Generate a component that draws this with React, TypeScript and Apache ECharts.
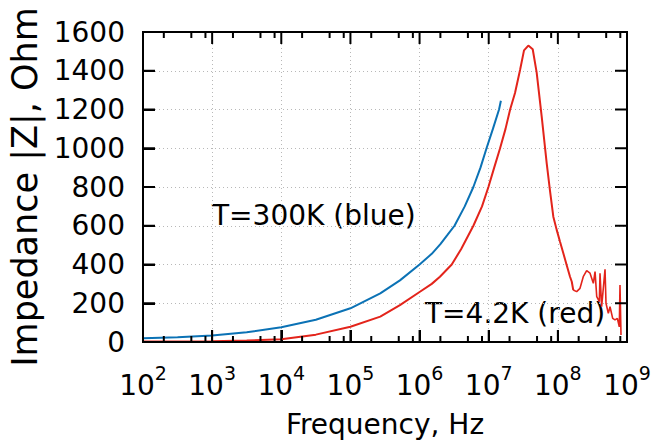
import React, { useEffect, useRef } from 'react';
import * as echarts from 'echarts';

// Axis ranges / ticks
const xMin = 1e2;
const xMax = 1e9;
const yMin = 0;
const yMax = 1600;
const yStep = 200;
const xMajorTicks = [1e2, 1e3, 1e4, 1e5, 1e6, 1e7, 1e8, 1e9];
const xMinorTicks = [
  2e2, 5e2, 8e2, 2e3, 5e3, 8e3, 2e4, 5e4, 8e4, 2e5, 5e5, 8e5,
  2e6, 5e6, 8e6, 2e7, 5e7, 8e7, 2e8, 5e8, 8e8,
];
const yTicks = [0, 200, 400, 600, 800, 1000, 1200, 1400, 1600];

// T = 300 K (blue): [frequency Hz, |Z| Ohm]
const blueData: [number, number][] = [
  [1e2, 19], [3.16e2, 25], [1e3, 33], [3.16e3, 50], [1e4, 76], [3.16e4, 115],
  [1e5, 174], [2.7e5, 251], [5.2e5, 318], [1e6, 400], [1.5e6, 455], [2e6, 505],
  [2.5e6, 550], [3.2e6, 600], [4.5e6, 700], [6e6, 800], [7.6e6, 900], [9.3e6, 1000],
  [1.15e7, 1100], [1.41e7, 1200], [1.5e7, 1245],
];

// T = 4.2 K (red), smooth part
const redData: [number, number][] = [
  [1e2, 3], [1e3, 4], [3.16e3, 8], [1e4, 14], [3.16e4, 38], [1e5, 79],
  [2.7e5, 131], [5.2e5, 190], [1e6, 258], [1.5e6, 300], [1.97e6, 337], [2.92e6, 400],
  [4e6, 480], [6e6, 600], [8e6, 700], [9.9e6, 800], [1.2e7, 900], [1.46e7, 1000],
  [1.75e7, 1100], [2.04e7, 1200], [2.4e7, 1285], [2.84e7, 1404], [3.24e7, 1505],
  [3.74e7, 1530], [4.33e7, 1511], [4.94e7, 1390], [5.84e7, 1163], [6.9e7, 922],
  [7.7e7, 780], [8.6e7, 647], [9.6e7, 580], [1.07e8, 520], [1.2e8, 458],
  [1.34e8, 397], [1.5e8, 337], [1.59e8, 311], [1.67e8, 268],
];

// T = 4.2 K (red), noisy high-frequency tail
const redTailData: [number, number][] = [
  [1.67e8, 268], [1.87e8, 260], [2.09e8, 277], [2.33e8, 337], [2.61e8, 368],
  [2.92e8, 355], [3.26e8, 303], [3.45e8, 363], [3.65e8, 234], [3.98e8, 208],
  [4.07e8, 355], [4.3e8, 182], [4.81e8, 375], [4.97e8, 200], [5.37e8, 148],
  [5.68e8, 182], [6.21e8, 122], [6.71e8, 114], [7.25e8, 122], [7.74e8, 79],
  [7.92e8, 294], [8.19e8, 36],
];

const labelBlue = 'T=300K (blue)';
const labelRed = 'T=4.2K (red)';

const FONT = 'DejaVu Sans';
const BLUE = '#0b72b5';
const RED = '#e3241b';
const BLACK = '#000000';

export default function App() {
  const ref = useRef<HTMLDivElement>(null);

  useEffect(() => {
    if (!ref.current) return;
    const chart = echarts.init(ref.current, undefined, { renderer: 'svg' });

    const axisLine = () => ({ show: true, onZero: false, lineStyle: { color: BLACK, width: 2 } });
    const gridLine = () => ({ show: true, lineStyle: { color: '#b8b8b8', width: 1, type: [1, 3] } });
    const stroke = { stroke: BLACK, lineWidth: 2 };

    // x-axis ticks (bottom pointing up, top pointing down), drawn through the axis scales
    const xTickRender = (len: number) => (params: any, api: any) => {
      const b = api.coord([api.value(0), yMin]);
      const t = api.coord([api.value(0), yMax]);
      return {
        type: 'group',
        children: [
          { type: 'line', shape: { x1: b[0], y1: b[1], x2: b[0], y2: b[1] - len }, style: stroke },
          { type: 'line', shape: { x1: t[0], y1: t[1], x2: t[0], y2: t[1] + len }, style: stroke },
        ],
      };
    };
    // y-axis ticks (left pointing right, right pointing left)
    const yTickRender = (params: any, api: any) => {
      const l = api.coord([xMin, api.value(1)]);
      const r = api.coord([xMax, api.value(1)]);
      return {
        type: 'group',
        children: [
          { type: 'line', shape: { x1: l[0], y1: l[1], x2: l[0] + 12, y2: l[1] }, style: stroke },
          { type: 'line', shape: { x1: r[0], y1: r[1], x2: r[0] - 12, y2: r[1] }, style: stroke },
        ],
      };
    };
    // frame
    const frameRender = (params: any, api: any) => {
      const p0 = api.coord([xMin, yMax]);
      const p1 = api.coord([xMax, yMin]);
      return {
        type: 'rect',
        shape: { x: p0[0], y: p0[1], width: p1[0] - p0[0], height: p1[1] - p0[1] },
        style: { fill: 'none', stroke: BLACK, lineWidth: 2 },
      };
    };

    const option: any = {
      animation: false,
      backgroundColor: '#ffffff',
      textStyle: { fontFamily: FONT, color: BLACK },
      grid: { left: 143, right: 27, top: 32, bottom: 99, outerBoundsMode: 'none' },
      xAxis: [
        {
          type: 'log', min: xMin, max: xMax,
          position: 'bottom',
          axisLine: axisLine(),
          axisTick: { show: true, inside: true, length: 12, lineStyle: { color: BLACK, width: 2 } },
          splitLine: gridLine(),
          axisLabel: {
            margin: 21,
            color: BLACK,
            formatter: (v: number) => `{b|10}{s|${Math.round(Math.log10(v))}}`,
            rich: {
              b: { fontSize: 28, lineHeight: 36, verticalAlign: 'bottom', color: BLACK, fontFamily: FONT },
              s: { fontSize: 19, lineHeight: 19, verticalAlign: 'top', color: BLACK, fontFamily: FONT },
            },
          },
          name: 'Frequency, Hz',
          nameLocation: 'middle',
          nameGap: 68,
          nameTextStyle: { fontSize: 28, color: BLACK, fontFamily: FONT },
        },
      ],
      yAxis: [
        {
          type: 'value', min: yMin, max: yMax, interval: yStep,
          position: 'left',
          axisLine: axisLine(),
          axisTick: { show: true, inside: true, length: 12, lineStyle: { color: BLACK, width: 2 } },
          splitLine: gridLine(),
          axisLabel: { fontSize: 28, margin: 18, color: BLACK, fontFamily: FONT, formatter: (v: number) => String(v) },
          name: 'Impedance |Z|, Ohm',
          nameLocation: 'middle',
          nameGap: 94,
          nameTextStyle: { fontSize: 35, color: BLACK, fontFamily: FONT },
        },
      ],
      series: [
        { type: 'line', data: blueData, showSymbol: false, lineStyle: { color: BLUE, width: 2 } },
        { type: 'line', data: redData, showSymbol: false, lineStyle: { color: RED, width: 2 } },
        { type: 'line', data: redTailData, showSymbol: false, lineStyle: { color: RED, width: 1.6 } },
        {
          type: 'custom', coordinateSystem: 'cartesian2d', clip: false, silent: true, z: 5,
          data: [[xMin, yMin]], renderItem: frameRender,
        },
        {
          type: 'custom', coordinateSystem: 'cartesian2d', clip: false, silent: true, z: 5,
          data: xMajorTicks.map((v) => [v, yMin]), renderItem: xTickRender(12),
        },
        {
          type: 'custom', coordinateSystem: 'cartesian2d', clip: false, silent: true, z: 5,
          data: xMinorTicks.map((v) => [v, yMin]), renderItem: xTickRender(6),
        },
        {
          type: 'custom', coordinateSystem: 'cartesian2d', clip: false, silent: true, z: 5,
          data: yTicks.map((v) => [xMin, v]), renderItem: yTickRender,
        },
      ],
      graphic: [
        { type: 'text', left: 212, top: 201, style: { text: labelBlue, fontSize: 28, fontFamily: FONT, fill: BLACK } },
        { type: 'text', left: 425, top: 299, style: { text: labelRed, fontSize: 28, fontFamily: FONT, fill: BLACK } },
      ],
    };

    chart.setOption(option);
    return () => chart.dispose();
  }, []);

  return <div ref={ref} style={{ position: 'fixed', left: 0, top: 0, width: 654, height: 441 }} />;
}
